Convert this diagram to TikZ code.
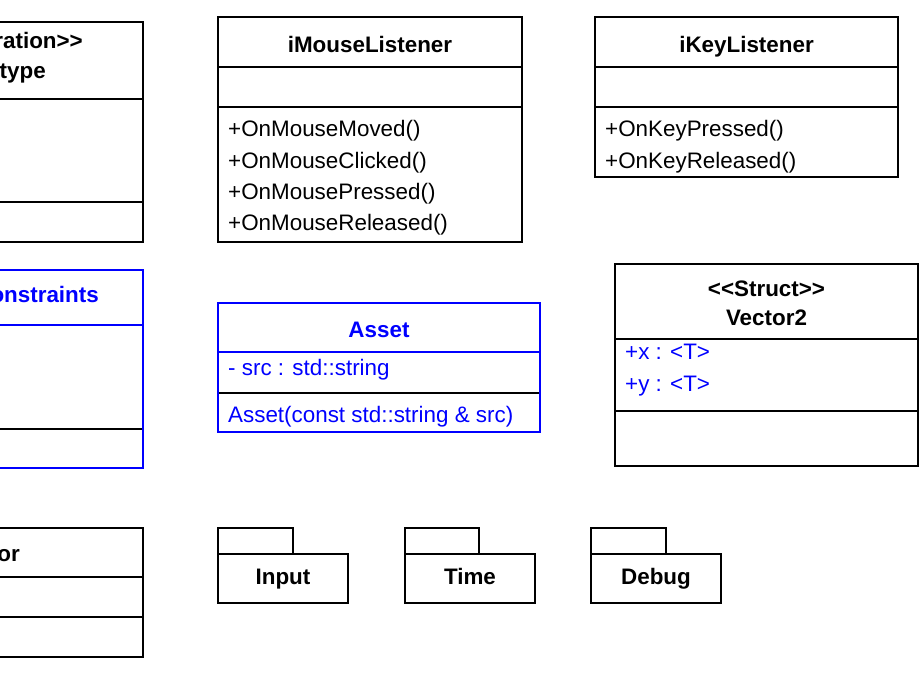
\documentclass[tikz,border=0pt]{standalone}
\usepackage{fontspec}
\setmainfont{Liberation Sans}
\definecolor{umlblue}{HTML}{0000FF}

\tikzset{
  umlbox/.style={draw=black, line width=1.7pt},
  umlbluebox/.style={draw=umlblue, line width=1.7pt},
  umltitle/.style={font=\bfseries\fontsize{22.4}{27}\selectfont, inner sep=0pt, anchor=base},
  umlmember/.style={font=\fontsize{22.4}{27}\selectfont, inner sep=0pt, anchor=base west},
}

\begin{document}
\begin{tikzpicture}[x=1pt, y=-1pt]
\useasboundingbox (0,0) rectangle (921,675);
\clip (0,0) rectangle (921,675);
\fill[white] (0,0) rectangle (921,675);

% enumeration class, running off the left edge
\draw[umlbox] (-80,22) rectangle (143,242);
\draw[umlbox] (-80,99) -- (143,99);
\draw[umlbox] (-80,202) -- (143,202);
\node[umltitle, anchor=base east] (enumA) at (83,48) {ration>{}>};
\node[umltitle, anchor=base east] (enumB) at (46,78) {type};

% iMouseListener
\draw[umlbox] (218,17) rectangle (522,242);
\draw[umlbox] (218,67) -- (522,67);
\draw[umlbox] (218,107) -- (522,107);
\node[umltitle] (mouse) at (370,52) {iMouseListener};
\node[umlmember] (mouseA) at (228,136) {+OnMouseMoved()};
\node[umlmember] (mouseB) at (228,168) {+OnMouseClicked()};
\node[umlmember] (mouseC) at (228,199) {+OnMousePressed()};
\node[umlmember] (mouseD) at (228,230) {+OnMouseReleased()};

% iKeyListener
\draw[umlbox] (595,17) rectangle (898,177);
\draw[umlbox] (595,67) -- (898,67);
\draw[umlbox] (595,107) -- (898,107);
\node[umltitle] (key) at (746.5,52) {iKeyListener};
\node[umlmember] (keyA) at (605,136) {+OnKeyPressed()};
\node[umlmember] (keyB) at (605,168) {+OnKeyReleased()};

% constraints class (blue), running off the left edge
\draw[umlbluebox] (-80,270) rectangle (143,468);
\draw[umlbluebox] (-80,325) -- (143,325);
\draw[umlbox] (-80,429) -- (142.1,429);
\node[umltitle, anchor=base east, text=umlblue] (constr) at (99,302) {onstraints};

% Asset
\draw[umlbluebox] (218,303) rectangle (540,432);
\draw[umlbluebox] (218,352) -- (540,352);
\draw[umlbox] (218.9,393) -- (539.1,393);
\node[umltitle, text=umlblue] (asset) at (379,337) {Asset};
\node[umlmember, text=umlblue] (assetA) at (228,375) {- src : std::string};
\node[umlmember, text=umlblue] (assetB) at (228,422) {Asset(const std::string \& src)};

% Vector2 struct
\draw[umlbox] (615,264) rectangle (918,466);
\draw[umlbox] (615,339) -- (918,339);
\draw[umlbox] (615,411) -- (918,411);
\node[umltitle] (vecS) at (766.5,296) {<{}<Struct>{}>};
\node[umltitle] (vec) at (766.5,325) {Vector2};
\node[umlmember, text=umlblue] (vecX) at (625,359) {+x : <T>};
\node[umlmember, text=umlblue] (vecY) at (625,391) {+y : <T>};

% class at the bottom left, running off the left edge
\draw[umlbox] (-80,528) rectangle (143,657);
\draw[umlbox] (-80,577) -- (143,577);
\draw[umlbox] (-80,617) -- (143,617);
\node[umltitle, anchor=base east] (vecC) at (20,561) {or};

% packages
\draw[umlbox] (218,528) rectangle (293,554);
\draw[umlbox] (218,554) rectangle (348,603);
\node[umltitle] (input) at (283,584) {Input};

\draw[umlbox] (405,528) rectangle (479,554);
\draw[umlbox] (405,554) rectangle (535,603);
\node[umltitle] (time) at (470,584) {Time};

\draw[umlbox] (591,528) rectangle (666,554);
\draw[umlbox] (591,554) rectangle (721,603);
\node[umltitle] (debug) at (656,584) {Debug};
\end{tikzpicture}
\end{document}
